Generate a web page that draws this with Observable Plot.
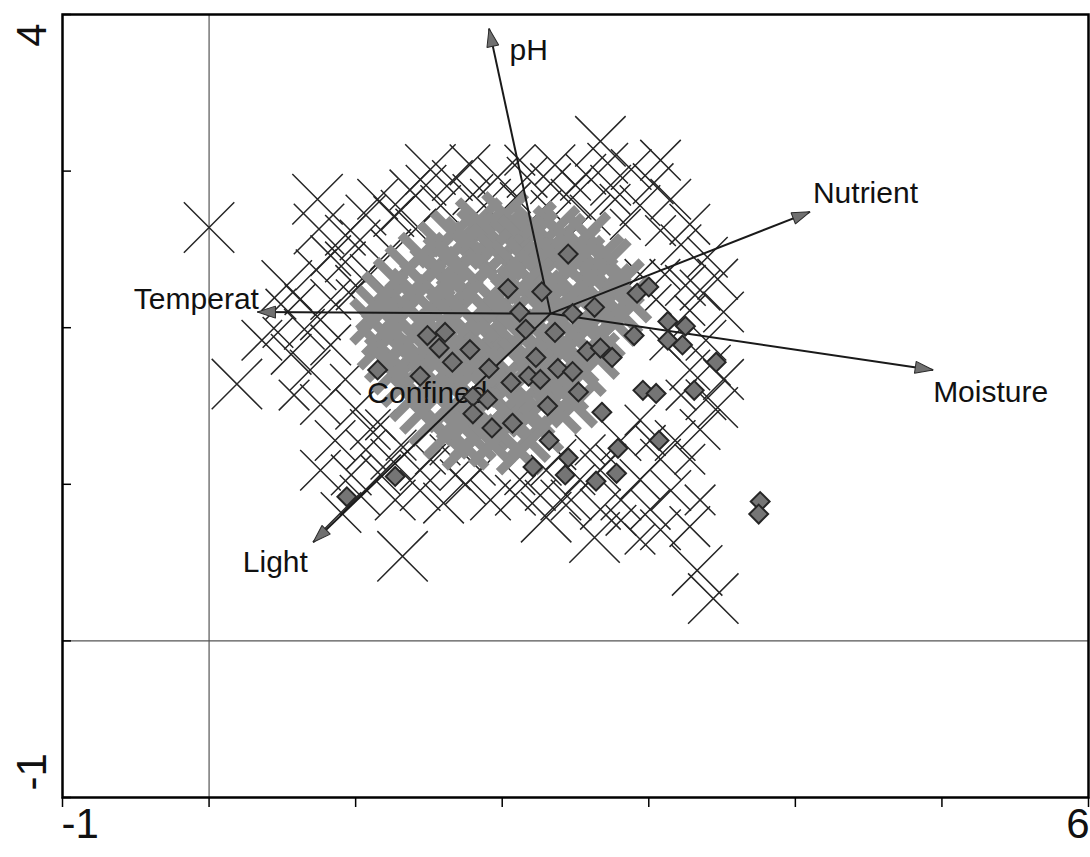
<!DOCTYPE html>
<html>
<head>
<meta charset="utf-8">
<script src="https://cdn.jsdelivr.net/npm/d3@7"></script>
<script src="https://cdn.jsdelivr.net/npm/@observablehq/plot@0.6"></script>
<style>
  html, body { margin: 0; padding: 0; background: #fff; }
  #chart svg { display: block; }
</style>
</head>
<body>
<div id="chart"></div>
<script>
// ---- axis ticks / labels ----
const xTicks = [-1, 0, 1, 2, 3, 4, 5, 6];
const yTicks = [-1, 0, 1, 2, 3, 4];
const xTickLabelsStart = [-1];
const xTickLabelsEnd = [6];
const yTickLabelsBottom = [-1];
const yTickLabelsTop = [4];

// ---- species scores (outer cloud): [axis1, axis2, weight] ----
const speciesOuter = [
  [0.00,2.64,3],[0.19,1.64,3],[1.32,0.54,3],[2.63,0.66,3],[2.30,0.79,3],[3.33,0.45,3],
  [3.44,0.27,3],[2.67,3.19,3],[1.51,3.01,3],[0.74,2.82,3],[0.75,2.63,3],[0.53,2.27,3],
  [1.15,2.82,2],[1.26,2.71,2],[1.37,2.88,2],[1.03,2.56,2],[0.93,2.42,2],[0.83,2.18,2],
  [0.65,1.99,2],[0.47,1.97,1],[0.36,1.92,2],[1.10,2.34,2],[1.24,2.50,2],[1.41,2.63,2],
  [1.58,2.78,2],[1.66,2.94,2],[1.80,2.85,2],[0.97,2.21,1],[0.83,1.89,2],[0.69,1.73,2],
  [0.58,1.57,1],[0.76,1.51,2],[0.93,1.67,1],[1.00,1.48,2],[0.86,1.28,2],[1.07,1.22,2],
  [0.97,1.06,2],[1.17,1.06,2],[0.90,0.82,2],[1.27,0.90,2],[1.44,0.96,2],[1.60,0.88,2],
  [1.75,1.00,2],[1.92,0.90,2],[2.09,0.93,2],[0.62,2.18,1],[0.49,2.15,1],
  [1.97,2.96,2],[2.17,2.96,2],[2.33,2.92,2],[1.92,2.82,2],[2.09,2.83,1],[2.30,2.78,1],
  [2.47,2.82,2],[2.72,3.05,2],[2.57,2.98,2],[2.88,3.01,2],[3.03,2.92,2],[3.15,2.82,2],
  [2.94,2.78,2],[2.77,2.82,1],[2.60,2.72,2],[3.28,2.66,2],[3.40,2.45,2],[3.22,2.53,2],
  [3.08,2.62,1],[2.84,2.66,1],[2.50,2.91,1],[2.12,3.07,1],
  [3.47,2.31,2],[3.51,2.10,2],[3.35,2.24,2],[3.28,2.11,1],[3.39,1.92,2],[3.51,1.67,2],
  [3.47,1.49,2],[3.28,1.73,2],[3.22,1.57,1],[3.35,1.35,2],[3.18,1.28,2],[3.08,1.16,2],
  [3.28,1.16,1],[3.11,1.89,1],[3.05,2.18,1],[2.94,2.34,1],[3.11,2.34,1],
  [2.47,0.90,2],[2.81,0.90,2],[2.94,1.03,2],[2.67,1.09,2],[2.53,1.03,1],[3.01,0.84,2],
  [3.28,0.73,2],[3.15,0.96,2],[3.35,0.90,1],[2.94,0.65,1],[2.81,0.77,1],[2.12,1.03,1],
  [2.30,1.09,1],[2.40,1.19,1],[1.85,1.09,1],[1.68,1.06,1],[1.51,1.16,1],[2.81,1.28,2],
  [2.94,1.41,1],[2.74,1.16,1],[2.60,1.22,1],[1.17,1.38,1],[1.31,1.25,1],
  [1.31,2.75,2],[1.48,2.91,2],[1.07,2.72,2],[0.93,2.59,2],[0.83,2.46,2],[0.73,2.37,2],
  [1.00,2.27,2],[0.76,2.05,2],[0.56,1.83,2],[1.10,1.35,2],[1.24,1.16,2],[1.44,1.09,2],
  [1.61,1.22,1],[1.03,0.93,2],[0.76,1.09,2],[3.39,1.54,2],[3.25,2.27,2],[3.42,1.76,2],
  [3.01,1.28,1],[1.78,3.04,2],[2.36,3.04,2],[3.08,3.07,2],[2.74,2.91,2],[2.40,0.90,2],
  [2.67,0.84,2],[2.26,0.93,1],[3.08,0.71,2]
];

// ---- species scores (dense centre): [axis1, axis2] ----
const speciesCore = [
  [1.84,2.68],[2.02,2.72],[2.21,2.66],[2.37,2.63],
  [1.67,2.60],[1.85,2.61],[2.03,2.59],[2.22,2.60],[2.41,2.58],[2.58,2.59],
  [1.58,2.53],[1.76,2.56],[1.94,2.52],[2.13,2.57],[2.32,2.50],[2.51,2.51],[2.67,2.45],
  [1.45,2.46],[1.62,2.44],[1.81,2.47],[1.99,2.45],[2.18,2.43],[2.36,2.46],[2.54,2.44],[2.72,2.42],
  [1.36,2.38],[1.53,2.37],[1.71,2.40],[1.90,2.36],[2.08,2.41],[2.27,2.34],[2.45,2.38],[2.63,2.31],[2.81,2.29],
  [1.28,2.30],[1.46,2.28],[1.64,2.31],[1.82,2.29],[2.00,2.27],[2.19,2.30],[2.37,2.28],[2.55,2.29],[2.73,2.26],
  [1.20,2.21],[1.39,2.23],[1.57,2.19],[1.75,2.24],[1.93,2.18],[2.12,2.25],[2.30,2.17],[2.49,2.22],[2.67,2.15],[2.86,2.18],
  [1.16,2.12],[1.34,2.13],[1.52,2.11],[1.70,2.14],[1.89,2.12],[2.07,2.10],[2.26,2.13],[2.44,2.11],[2.62,2.12],[2.80,2.10],
  [1.12,2.04],[1.29,2.06],[1.48,2.02],[1.66,2.07],[1.85,2.00],[2.03,2.06],[2.21,2.00],[2.40,2.05],[2.58,1.99],[2.77,2.03],
  [1.20,1.96],[1.39,1.95],[1.57,1.97],[1.76,1.94],[1.94,1.96],[2.12,1.95],[2.31,1.97],[2.49,1.94],[2.68,1.95],
  [1.17,1.88],[1.35,1.90],[1.53,1.85],[1.72,1.89],[1.90,1.83],[2.08,1.90],[2.27,1.85],[2.45,1.88],[2.64,1.82],
  [1.22,1.80],[1.40,1.79],[1.58,1.81],[1.77,1.78],[1.95,1.80],[2.13,1.79],[2.32,1.81],[2.50,1.78],
  [1.27,1.72],[1.45,1.74],[1.63,1.69],[1.82,1.73],[2.00,1.67],[2.19,1.72],[2.37,1.67],[2.55,1.71],
  [1.33,1.64],[1.52,1.63],[1.70,1.65],[1.88,1.62],[2.06,1.64],[2.25,1.63],[2.43,1.61],
  [1.39,1.55],[1.57,1.58],[1.75,1.53],[1.93,1.57],[2.12,1.51],[2.30,1.56],[2.49,1.51],
  [1.46,1.47],[1.64,1.48],[1.83,1.46],[2.01,1.47],[2.20,1.45],[2.38,1.47],
  [1.52,1.39],[1.71,1.42],[1.89,1.36],[2.08,1.41],[2.26,1.35],
  [1.62,1.31],[1.80,1.30],[1.99,1.32],[2.17,1.29],
  [1.75,1.24],[1.93,1.26],[2.12,1.21]
];

// ---- sample scores: [axis1, axis2] ----
const samples = [
  [2.45,2.47],[2.04,2.25],[2.27,2.23],[2.12,2.10],[2.48,2.09],[2.63,2.13],[2.92,2.22],[3.00,2.26],
  [2.16,1.99],[2.36,1.97],[1.61,1.97],[1.49,1.95],[1.57,1.87],[1.78,1.86],[1.66,1.78],[1.91,1.74],
  [1.15,1.73],[1.44,1.69],[2.23,1.81],[2.38,1.74],[2.48,1.72],[2.58,1.85],[2.67,1.87],[2.75,1.81],
  [3.13,2.04],[3.25,2.01],[3.13,1.92],[3.23,1.89],[3.46,1.78],[2.06,1.65],[2.18,1.69],[2.26,1.67],
  [2.52,1.59],[2.96,1.60],[3.05,1.58],[3.31,1.60],[1.80,1.56],[1.90,1.54],[1.80,1.45],[1.93,1.36],
  [2.07,1.39],[2.31,1.50],[2.68,1.46],[2.32,1.28],[3.07,1.28],[2.79,1.23],[2.45,1.17],[2.21,1.11],
  [2.43,1.06],[2.64,1.02],[2.78,1.07],[3.76,0.89],[3.75,0.81],[1.27,1.05],[0.94,0.92],[2.90,1.95]
];

// ---- environmental variables (arrows) ----
const envOrigin = [2.33, 2.09];
const envNames = ["pH", "Nutrient", "Moisture", "Temperat", "Light"];
const envTipX = [1.91, 4.10, 4.94, 0.33, 0.71];
const envTipY = [3.91, 2.74, 1.73, 2.10, 0.63];

// ---- labels ----
const labelNames = ["pH", "Nutrient", "Moisture", "Temperat", "Light", "Confined"];
const labelX = [2.05, 4.12, 4.94, 0.34, 0.23, 1.08];
const labelY = [3.77, 2.86, 1.59, 2.18, 0.50, 1.58];

// ---------------------------------------------------------------
const FONT = "'Liberation Sans', Arial, Helvetica, sans-serif";
const arrows = envNames.map((name, i) => ({
  name, x1: envOrigin[0], y1: envOrigin[1], x2: envTipX[i], y2: envTipY[i]
}));
const labels = labelNames.map((name, i) => ({name, x: labelX[i], y: labelY[i]}));

function filledArrow(color, context) {
  const m = d3.create("svg:marker")
    .attr("viewBox", "-21 -9 24 18")
    .attr("markerWidth", 24)
    .attr("markerHeight", 18)
    .attr("markerUnits", "userSpaceOnUse")
    .attr("refX", 0)
    .attr("refY", 0)
    .attr("orient", "auto");
  m.append("path")
    .attr("d", "M-18,-6L0,0L-18,6Z")
    .attr("fill", "#707070")
    .attr("stroke", "#2a2a2a")
    .attr("stroke-width", 1);
  return m.node();
}

const chart = Plot.plot({
  width: 1090,
  height: 857,
  marginLeft: 62,
  marginRight: 2,
  marginTop: 14,
  marginBottom: 60,
  x: {domain: [-1, 6]},
  y: {domain: [-1, 4]},
  r: {type: "linear", domain: [1, 3], range: [14, 23]},
  style: {fontFamily: FONT, background: "#fff", color: "#111"},
  marks: [
    Plot.ruleX([0], {stroke: "#333", strokeWidth: 1}),
    Plot.ruleY([0], {stroke: "#555", strokeWidth: 1.3}),
    Plot.dot(speciesOuter, {
      x: d => d[0], y: d => d[1], r: d => d[2],
      symbol: "times", stroke: "#262626", strokeWidth: 1.5
    }),
    Plot.dot(speciesCore, {
      x: d => d[0], y: d => d[1], r: 19,
      symbol: "times", stroke: "#8c8c8c", strokeWidth: 9
    }),
    Plot.link(arrows, {
      x1: "x1", y1: "y1", x2: "x2", y2: "y2",
      stroke: "#1a1a1a", strokeWidth: 2, markerEnd: filledArrow
    }),
    Plot.text(labels.filter(d => d.name !== "Temperat"), {
      x: "x", y: "y", text: "name", textAnchor: "start",
      fontSize: 30, fill: "#111"
    }),
    Plot.text(labels.filter(d => d.name === "Temperat"), {
      x: "x", y: "y", text: "name", textAnchor: "end",
      fontSize: 30, fill: "#111"
    }),
    Plot.dot(samples, {
      x: d => d[0], y: d => d[1], r: 8.5,
      symbol: "diamond2", fill: "#757575", stroke: "#262626", strokeWidth: 2
    }),
    Plot.frame({stroke: "#000", strokeWidth: 2.5}),
    Plot.axisX({ticks: xTicks, tickSize: 10, tickFormat: () => "", label: null, stroke: "#000", strokeWidth: 1.5}),
    Plot.axisY({ticks: yTicks, tickSize: -9, tickFormat: () => "", label: null, stroke: "#000", strokeWidth: 1.5}),
    Plot.text(xTickLabelsStart, {
      x: d => d, frameAnchor: "bottom", text: d => String(d),
      textAnchor: "start", dx: -1, dy: 40, fontSize: 42, fill: "#111"
    }),
    Plot.text(xTickLabelsEnd, {
      x: d => d, frameAnchor: "bottom", text: d => String(d),
      textAnchor: "end", dx: 1, dy: 40, fontSize: 42, fill: "#111"
    }),
    Plot.text(yTickLabelsTop, {
      y: d => d, frameAnchor: "left", text: d => String(d), rotate: -90,
      textAnchor: "end", lineAnchor: "bottom", dx: -17, dy: 9, fontSize: 42, fill: "#111"
    }),
    Plot.text(yTickLabelsBottom, {
      y: d => d, frameAnchor: "left", text: d => String(d), rotate: -90,
      textAnchor: "start", lineAnchor: "bottom", dx: -17, dy: -7, fontSize: 42, fill: "#111"
    })
  ]
});
document.getElementById("chart").appendChild(chart);
</script>
</body>
</html>
